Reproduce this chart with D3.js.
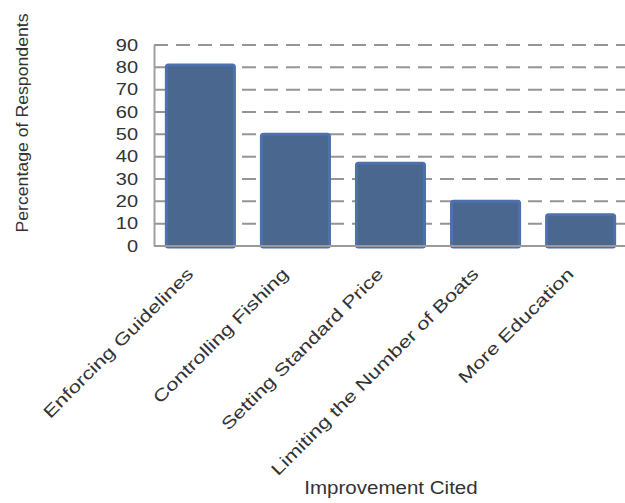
<!DOCTYPE html>
<html>
<head>
<meta charset="utf-8">
<script src="https://cdn.jsdelivr.net/npm/d3@7"></script>
<style>
  html, body { margin: 0; padding: 0; background: #fff; }
  svg { display: block; }
  text { font-family: "Liberation Sans", Arial, sans-serif; fill: #333; }
</style>
</head>
<body>
<svg id="chart" width="625" height="503"></svg>
<script>
const categories = ["Enforcing Guidelines", "Controlling Fishing", "Setting Standard Price", "Limiting the Number of Boats", "More Education"];
const values = [81, 50, 37, 20, 14];
const yTicks = [0, 10, 20, 30, 40, 50, 60, 70, 80, 90];
const yTitle = "Percentage of Respondents";
const xTitle = "Improvement Cited";

(function () {
const svg = d3.select("#chart");
const pLeft = 154, pRight = 627, pTop = 45, pBottom = 246;

const x = d3.scaleBand().domain(categories).range([pLeft, pRight]).paddingInner(0.284).paddingOuter(0.13);
const y = d3.scaleLinear().domain([0, 90]).range([pBottom, pTop]);

function stretch(sel, ratio) {
  sel.each(function() {
    const len = this.getComputedTextLength();
    d3.select(this).attr("textLength", len * ratio).attr("lengthAdjust", "spacingAndGlyphs");
  });
}

// gridlines
svg.append("g").selectAll("line").data(yTicks.filter(d => d > 0)).join("line")
  .attr("x1", pLeft).attr("x2", 625)
  .attr("y1", d => y(d)).attr("y2", d => y(d))
  .attr("stroke", "#959595").attr("stroke-width", 2)
  .attr("stroke-dasharray", "14,8");

// bars
svg.append("g").selectAll("rect").data(values).join("rect")
  .attr("x", (d, i) => x(categories[i]))
  .attr("width", x.bandwidth())
  .attr("y", d => y(d))
  .attr("height", d => pBottom + 1 - y(d))
  .attr("rx", 2)
  .attr("fill", "#4a6790")
  .attr("stroke", "#4d71ad")
  .attr("stroke-width", 3);

// axes
const axisY = d3.axisLeft(y).tickValues(yTicks).tickSize(0).tickPadding(16);
const gy = svg.append("g").attr("transform", `translate(${pLeft},0)`).call(axisY);
gy.select(".domain").attr("stroke", "#a0a0a0").attr("stroke-width", 2);
gy.selectAll("text").attr("font-size", 16).attr("fill", "#333")
  .style("font-family", '"Liberation Sans", Arial, sans-serif');
stretch(gy.selectAll("text"), 1.25);

const axisX = d3.axisBottom(x).tickSize(0).tickFormat(() => "");
const gx = svg.append("g").attr("transform", `translate(0,${pBottom})`).call(axisX);
gx.select(".domain").attr("stroke", "#9a9a9a").attr("stroke-width", 2).attr("d", `M${pLeft},0H625`);

// category labels
const labs = svg.append("g").selectAll("text").data(categories).join("text")
  .attr("transform", d => `translate(${x(d) + x.bandwidth() / 2 - 6},${pBottom + 29}) rotate(-45)`)
  .attr("text-anchor", "end")
  .attr("font-size", 17)
  .text(d => d);
stretch(labs, 1.3);

// titles
const yt = svg.append("text")
  .attr("transform", `translate(28,123) rotate(-90)`)
  .attr("text-anchor", "middle")
  .attr("font-size", 17)
  .text(yTitle);
stretch(yt, 1.04);

const xt = svg.append("text")
  .attr("x", 391).attr("y", 494)
  .attr("text-anchor", "middle")
  .attr("font-size", 18)
  .text(xTitle);
stretch(xt, 1.14);
})();
</script>
</body>
</html>
